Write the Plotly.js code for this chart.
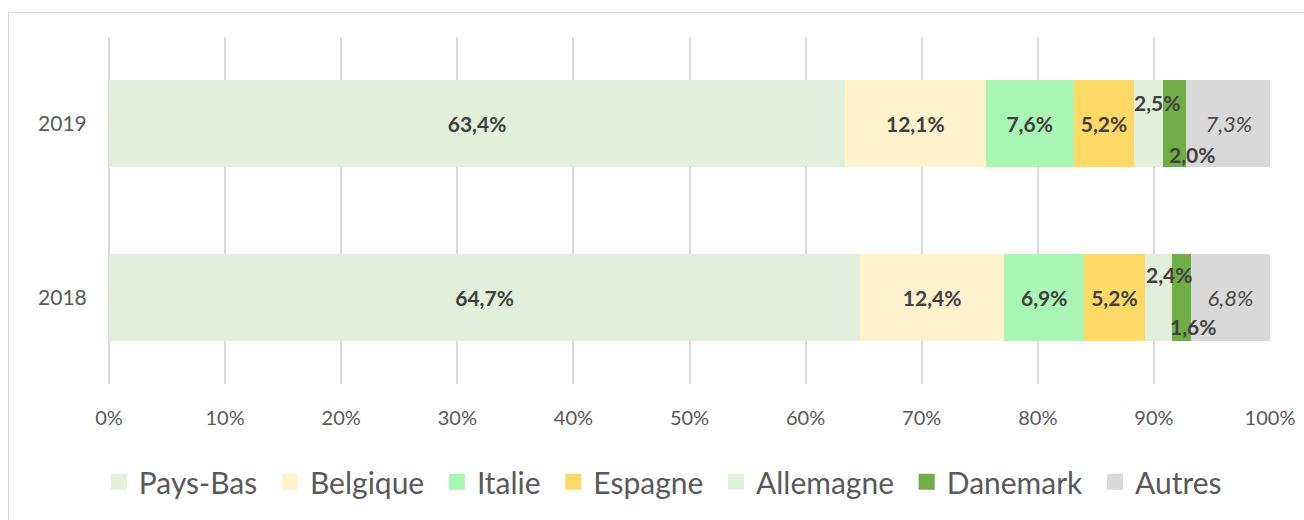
<!DOCTYPE html>
<html>
<head>
<meta charset="utf-8">
<script src="https://cdn.plot.ly/plotly-3.0.1.min.js"></script>
<style>
  html, body { margin: 0; padding: 0; background: #ffffff; }
  #wrap { position: relative; width: 1304px; height: 520px; overflow: hidden; }
  #chart { position: absolute; left: 0; top: 0; width: 1304px; height: 520px; }
  #frame { position: absolute; left: 8px; top: 12px; width: 1400px; height: 600px;
           border-left: 1px solid #d9d9d9; border-top: 1px solid #d9d9d9; pointer-events: none; }
</style>
</head>
<body>
<div id="wrap">
  <div id="chart"></div>
  <div id="frame"></div>
</div>
<script>
// Categories (bottom to top)
const years = ["2018", "2019"];
const countries = ["Pays-Bas", "Belgique", "Italie", "Espagne", "Allemagne", "Danemark", "Autres"];
// Shares in % per country: [2018, 2019]
const paysBas   = [64.7, 63.4];
const belgique  = [12.4, 12.1];
const italie    = [6.9, 7.6];
const espagne   = [5.2, 5.2];
const allemagne = [2.4, 2.5];
const danemark  = [1.6, 2.0];
const autres    = [6.8, 7.3];
const tickVals  = [0, 10, 20, 30, 40, 50, 60, 70, 80, 90, 100];
const tickText  = tickVals.map(v => v + "%");

const series = [paysBas, belgique, italie, espagne, allemagne, danemark, autres];
const colors = ["#E2EFDA", "#FFF2CC", "#A9F5B4", "#FFD966", "#E2EFDA", "#70AD47", "#D9D9D9"];
const fmt = v => v.toFixed(1).replace(".", ",") + "%";
const FONT = "Lato, 'Open Sans', sans-serif";

const traces = [];
series.forEach((vals, i) => {
  const name = countries[i];
  const outsideLabel = (name === "Allemagne" || name === "Danemark");
  const italic = (name === "Autres");
  traces.push({
    type: "bar",
    orientation: "h",
    name: name,
    y: years,
    x: vals,
    width: 0.5,
    marker: { color: colors[i], line: { width: 0 } },
    text: outsideLabel ? vals.map(() => "") : vals.map(fmt),
    textposition: "inside",
    insidetextanchor: "middle",
    constraintext: "none",
    textangle: 0,
    textfont: italic
      ? { family: FONT, size: 22, color: "#4a4a4a", style: "italic" }
      : { family: FONT, size: 21, color: "#404040", weight: "bold" },
    showlegend: false,
    hoverinfo: "skip"
  });
});
// legend proxies (bigger square symbols) on hidden axes
series.forEach((vals, i) => {
  const pad = i < series.length - 1 ? "\u00a0" : "";
  traces.push({
    type: "scatter",
    mode: "markers",
    name: countries[i] + pad,
    x: [-10],
    y: [-10],
    xaxis: "x2",
    yaxis: "y2",
    marker: { symbol: "square", size: 22, color: colors[i] },
    showlegend: true,
    hoverinfo: "skip"
  });
});

// annotations for the thin segments (Allemagne above, Danemark below)
const annotations = [];
const cum = (idx, yi) => series.slice(0, idx).reduce((s, a) => s + a[yi], 0);
const shifts = {
  Allemagne: [{ xs: 10, ys: 23 }, { xs: 8, ys: 21 }],
  Danemark:  [{ xs: 11, ys: -29 }, { xs: 17, ys: -31 }]
};
["Allemagne", "Danemark"].forEach(name => {
  const idx = countries.indexOf(name);
  years.forEach((yr, yi) => {
    const start = cum(idx, yi);
    annotations.push({
      x: start + series[idx][yi] / 2,
      y: yi,
      xref: "x",
      yref: "y",
      text: fmt(series[idx][yi]),
      showarrow: false,
      xshift: shifts[name][yi].xs,
      yshift: shifts[name][yi].ys,
      font: { family: FONT, size: 21, color: "#404040", weight: "bold" }
    });
  });
});

const layout = {
  width: 1304,
  height: 520,
  margin: { l: 109, r: 34, t: 37, b: 132, pad: 0 },
  paper_bgcolor: "#ffffff",
  plot_bgcolor: "#ffffff",
  barmode: "stack",
  font: { family: FONT, color: "#595959" },
  xaxis: {
    range: [0, 100],
    autorange: false,
    tickvals: tickVals,
    ticktext: tickText,
    showgrid: true,
    gridcolor: "#D9D9D9",
    gridwidth: 2,
    zeroline: true,
    zerolinecolor: "#D9D9D9",
    zerolinewidth: 2,
    showline: false,
    ticks: "outside",
    ticklen: 16,
    tickcolor: "rgba(0,0,0,0)",
    tickfont: { family: FONT, size: 20, color: "#595959" },
    fixedrange: true
  },
  yaxis: {
    type: "category",
    categoryorder: "array",
    categoryarray: years,
    range: [-0.5, 1.5],
    autorange: false,
    showgrid: false,
    zeroline: false,
    showline: false,
    ticks: "outside",
    ticklen: 17,
    tickcolor: "rgba(0,0,0,0)",
    tickfont: { family: FONT, size: 21, color: "#595959" },
    fixedrange: true
  },
  xaxis2: { visible: false, range: [0, 1], overlaying: "x", fixedrange: true },
  yaxis2: { visible: false, range: [0, 1], overlaying: "y", fixedrange: true },
  showlegend: true,
  legend: {
    orientation: "h",
    x: 0.477,
    xanchor: "center",
    y: -0.282,
    yanchor: "middle",
    font: { family: FONT, size: 30, color: "#595959" },
    bgcolor: "rgba(0,0,0,0)",
    traceorder: "normal",
    itemclick: false,
    itemdoubleclick: false
  },
  annotations: annotations
};

Plotly.newPlot("chart", traces, layout, { staticPlot: true, displayModeBar: false });
</script>
</body>
</html>
